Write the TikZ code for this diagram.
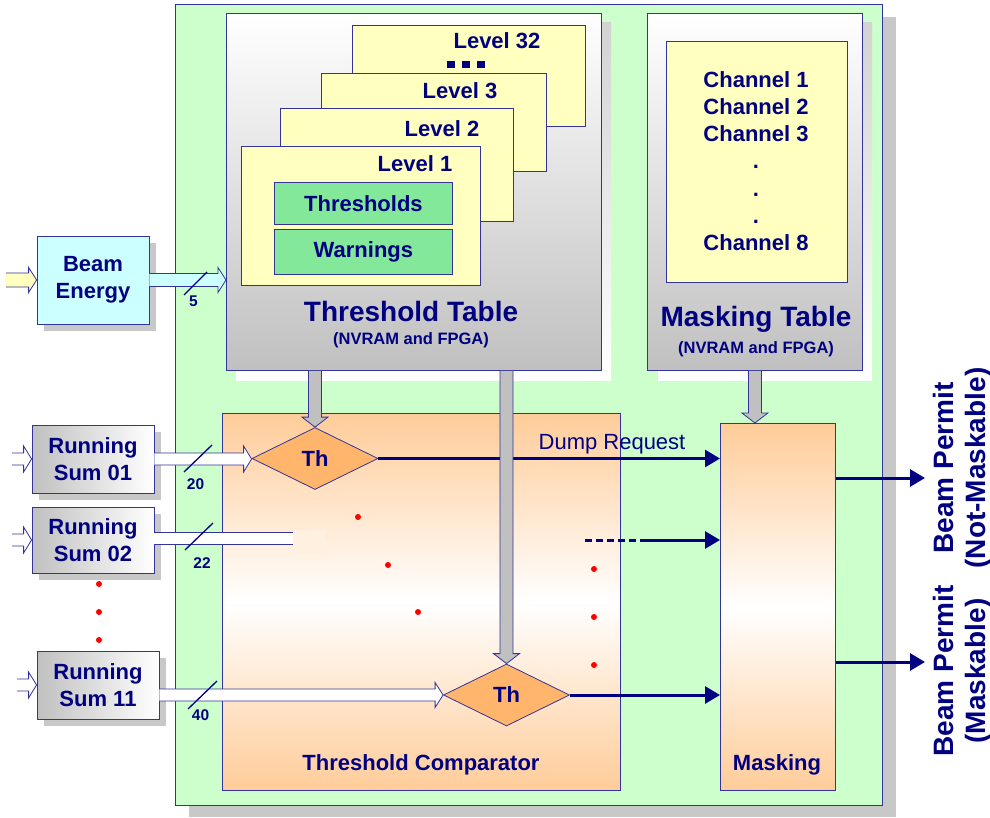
\documentclass[tikz,border=0pt]{standalone}
\usepackage{fontspec}
\setmainfont{Liberation Sans}
\usetikzlibrary{shapes.geometric,arrows.meta,calc,shadows}

\definecolor{blu}{HTML}{000080}
\definecolor{bordoblu}{HTML}{333399}
\definecolor{verdechiaro}{HTML}{CCFFCC}
\definecolor{giallo}{HTML}{FFFFC0}
\definecolor{verde}{HTML}{84E89A}
\definecolor{ciano}{HTML}{CCFFFF}
\definecolor{arancio}{HTML}{FFB66C}
\definecolor{pesca}{HTML}{FFCC99}
\definecolor{grigio}{HTML}{C0C0C0}
\definecolor{ombra}{HTML}{C8C8C8}

% freccia vuota orizzontale: da, a, colore, mezzo fusto, mezza punta
\newcommand{\frecciah}[5]{%
  \filldraw[bordo, fill=#3] let \p1=(#1), \p2=(#2) in
    (\x1,\y1+#4) -- (\x2-8pt,\y1+#4) -- (\x2-8pt,\y1+#5) -- (\x2,\y1)
    -- (\x2-8pt,\y1-#5) -- (\x2-8pt,\y1-#4) -- (\x1,\y1-#4);}
% freccia vuota verticale (verso il basso)
\newcommand{\frecciav}[3]{%
  \filldraw[bordo, fill=#3] let \p1=(#1), \p2=(#2) in
    (\x1-6.5pt,\y1) -- (\x1-6.5pt,\y2+10pt) -- (\x1-13pt,\y2+10pt) -- (\x2,\y2)
    -- (\x1+13pt,\y2+10pt) -- (\x1+6.5pt,\y2+10pt) -- (\x1+6.5pt,\y1);}

\begin{document}
\begin{tikzpicture}[x=1pt, y=-1pt,
    bordo/.style={draw=bordoblu, line width=0.8pt},
    testo/.style={text=blu, font=\bfseries\fontsize{22}{27}\selectfont, align=center, inner sep=0pt},
    titolo/.style={testo, font=\bfseries\fontsize{28}{32}\selectfont},
    sotto/.style={testo, font=\bfseries\fontsize{16.5}{20}\selectfont},
    numero/.style={testo, font=\bfseries\fontsize{15.5}{18}\selectfont},
    scatola/.style={bordo, rectangle, inner sep=0pt, anchor=north west, testo},
    blocco/.style={bordo, rectangle, inner sep=0pt, testo, minimum width=122pt, minimum height=68pt,
      drop shadow={shadow xshift=7pt, shadow yshift=-7pt, fill=ombra, opacity=1}},
    somma/.style={blocco, left color=grigio, right color=white},
    rombo/.style={diamond, bordo, fill=arancio, aspect=2, inner sep=0pt,
      minimum width=126pt, minimum height=62pt, testo},
    freccia/.style={draw=blu, line width=3pt, -{Triangle[length=15pt, width=17pt]}},
    taglio/.style={draw=blu, line width=1.3pt},
    punto/.style={fill=red}]
\useasboundingbox (0,0) rectangle (990,818);

% Pannello principale
\fill[ombra] (189,17) rectangle (896,817);
\node[scatola, fill=verdechiaro, minimum width=707pt, minimum height=801pt] (pan) at (175,4) {};

% Threshold Table
\fill[top color=gray!35, bottom color=white] (236,23) rectangle (611,380);
\node[scatola, top color=white, bottom color=grigio, minimum width=375pt, minimum height=357pt] (tt) at (226,13) {};
\node[scatola, fill=giallo, minimum width=233pt, minimum height=101pt] (l32) at (352,25) {};
\node[scatola, fill=giallo, minimum width=225pt, minimum height=98pt] (l3) at (321,73) {};
\node[scatola, fill=giallo, minimum width=233pt, minimum height=113pt] (l2) at (280,108) {};
\node[scatola, fill=giallo, minimum width=239pt, minimum height=139pt] (l1) at (241,146) {};
\node[testo] (t32) at (497,41) {Level 32};
\foreach \x in {451,466,481}
  \fill[blu] (\x-3.8,61) rectangle (\x+3.8,68.5);
\node[testo] (t3) at (460,91) {Level 3};
\node[testo] (t2) at (442,129) {Level 2};
\node[testo] (t1) at (415,164) {Level 1};
\node[scatola, fill=verde, minimum width=178pt, minimum height=42pt] (thr) at (274,182) {Thresholds};
\node[scatola, fill=verde, minimum width=178pt, minimum height=45pt] (warn) at (274,229) {Warnings};
\node[titolo] (ttt) at (411,311) {Threshold Table};
\node[sotto] (tts) at (411,340) {(NVRAM and FPGA)};

% Masking Table
\fill[top color=gray!35, bottom color=white] (658,23) rectangle (872,380);
\node[scatola, top color=white, bottom color=grigio, minimum width=215pt, minimum height=357pt] (mt) at (647,13) {};
\node[scatola, fill=giallo, minimum width=181pt, minimum height=241pt] (ch) at (666,41) {};
\node[testo, font=\bfseries\fontsize{22}{27.2}\selectfont] (chl) at (756,161)
  {Channel 1\\Channel 2\\Channel 3\\.\\.\\.\\Channel 8};
\node[titolo] (mtt) at (756,319) {Masking Table};
\node[sotto] (mts) at (756,349) {(NVRAM and FPGA)};

% Comparatore e masking
\node[scatola, top color=pesca, bottom color=pesca, middle color=white, minimum width=398pt, minimum height=377pt] (cmp) at (222,413) {};
\node[scatola, top color=pesca, bottom color=pesca, middle color=white, minimum width=115pt, minimum height=367pt] (mk) at (720,423) {};
\node[testo] (cmpt) at (421,765) {Threshold Comparator};
\node[testo] (mkt) at (777,765) {Masking};

\node[rombo] (th1) at (315,458.5) {Th};
\node[rombo] (th2) at (506.5,695) {Th};

% Linee verso il masking
\draw[freccia] (th1.east) -- (mk.west |- th1.east);
\node[text=blu, font=\fontsize{22}{26}\selectfont, inner sep=0pt] (dump) at (612,444.5) {Dump Request};
\coordinate (tr1) at (585,540);
\coordinate (tr2) at (645,540);
\draw[draw=blu, line width=3pt, dash pattern=on 7pt off 4pt] (tr1) -- (tr2);
\draw[freccia] (tr2) -- (mk.west |- tr2);
\draw[freccia] (th2.east) -- (mk.west |- th2.east);

% Frecce grigie
\frecciav{tt.south -| th1.north}{th1.north}{grigio}
\frecciav{tt.south -| th2.north}{th2.north}{grigio}
\frecciav{mt.south}{mt.south |- mk.north}{grigio}

% Ingressi
\node[blocco, fill=ciano, minimum width=112pt, minimum height=88pt] (be) at (93,280) {Beam\\Energy};
\node[somma] (rs1) at (93,459) {Running\\Sum 01};
\node[somma, minimum height=66pt] (rs2) at (93,540) {Running\\Sum 02};
\node[somma] (rs11) at (98,685) {Running\\Sum 11};

\coordinate (in0) at (6,280);
\coordinate (in1) at (12,459);
\coordinate (in2) at (12,540);
\coordinate (in11) at (17,685);
\frecciah{in0}{be.west}{giallo}{7pt}{12.5pt}
\frecciah{in1}{rs1.west}{white}{6pt}{13pt}
\frecciah{in2}{rs2.west}{white}{6pt}{13pt}
\frecciah{in11}{rs11.west}{white}{6pt}{13pt}

\frecciah{be.east}{tt.west}{ciano}{6.5pt}{12.5pt}
\frecciah{rs1.east}{th1.west}{white}{6pt}{13pt}
\frecciah{rs11.east |- th2.west}{th2.west}{white}{6pt}{12.5pt}
\coordinate (fine2) at (294,538);
\fill[white] (rs2.east |- 0,532) rectangle (fine2 |- 0,544);
\draw[bordo] (rs2.east |- 0,532) -- (fine2 |- 0,532);
\draw[bordo] (rs2.east |- 0,544) -- (fine2 |- 0,544);
\fill[pesca!30] (293,530) rectangle (325,553);

% Tagli e larghezze bus
\draw[taglio] (184,295) -- (207,272);
\node[numero] (n5) at (193.5,301.5) {5};
\draw[taglio] (184,472) -- (212,445);
\node[numero] (n20) at (195.5,484) {20};
\draw[taglio] (185,550) -- (213,523);
\node[numero] (n22) at (202,563.5) {22};
\draw[taglio] (188,709) -- (217,681);
\node[numero] (n40) at (200.5,715) {40};

% Puntini
\foreach \p in {(99,584),(99,612),(99,640),(358,517),(388,565),(418,612),(594,569),(594,617),(594,665)}
  \fill[punto] \p circle (3pt);

% Uscite
\coordinate (out1) at (925,478);
\coordinate (out2) at (925,662);
\draw[freccia] (mk.east |- out1) -- (out1);
\draw[freccia] (mk.east |- out2) -- (out2);
\node[titolo, rotate=90] (bp1) at (962,468) {Beam Permit\\(Not-Maskable)};
\node[titolo, rotate=90] (bp2) at (962,671) {Beam Permit\\(Maskable)};
\end{tikzpicture}
\end{document}
